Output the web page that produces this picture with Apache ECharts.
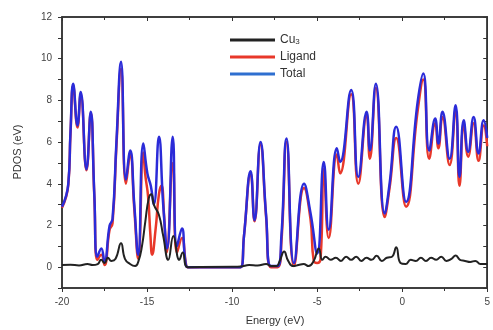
<!DOCTYPE html>
<html>
<head>
<meta charset="utf-8">
<script src="https://cdn.jsdelivr.net/npm/echarts@6/dist/echarts.min.js"></script>
<style>
html, body { margin: 0; padding: 0; background: #fff; }
#chart { width: 493px; height: 330px; }
</style>
</head>
<body>
<div id="chart"></div>
<script>
// Energy ticks (eV)
var xTicks = [-20, -15, -10, -5, 0, 5];
var yTicks = [0, 2, 4, 6, 8, 10, 12];

// Total DOS
var totalE = [-20, -19.63, -19.5, -19.34, -19.09, -18.9, -18.56, -18.31, -18.1, -17.92, -17.69, -17.5, -17.2, -17.03, -16.8, -16.53, -16.24, -15.99, -15.75, -15.52, -15.22, -14.98, -14.78, -14.6, -14.3, -14.05, -13.82, -13.49, -13.24, -12.95, -12.75, -12.6, -9.5, -9.3, -8.91, -8.68, -8.33, -8.0, -7.72, -7.33, -7.1, -6.8, -6.36, -5.77, -5.39, -5.0, -4.61, -4.32, -3.84, -3.65, -3.0, -2.58, -2.09, -1.9, -1.55, -1.03, -0.74, -0.35, 0.23, 0.91, 1.24, 1.59, 1.94, 2.13, 2.37, 2.79, 3.14, 3.37, 3.62, 3.88, 4.2, 4.49, 4.79, 5.0];
var totalV = [2.9, 4.0, 6.5, 8.8, 6.8, 8.4, 4.7, 7.45, 3.5, 0.5, 0.9, 0.25, 2.0, 2.3, 6.0, 9.85, 4.2, 5.6, 3.0, 0.6, 5.93, 4.5, 3.9, 3.0, 6.25, 3.0, 0.9, 6.25, 1.0, 1.85, 0.3, 0, 0, 1.5, 4.6, 2.25, 6.0, 2.5, 0.05, 0.05, 1.5, 6.17, 0.2, 4.0, 2.6, 0.65, 5.05, 1.8, 5.7, 5.05, 8.5, 4.33, 7.45, 5.6, 8.8, 2.57, 4.0, 6.73, 3.13, 7.93, 9.29, 5.6, 7.13, 5.93, 7.45, 5.2, 7.77, 4.33, 7.05, 5.53, 7.2, 5.45, 7.05, 6.2];

// Ligand DOS
var ligandE = [-20, -19.63, -19.5, -19.34, -19.09, -18.9, -18.56, -18.31, -18.1, -17.92, -17.69, -17.5, -17.2, -17.03, -16.8, -16.53, -16.24, -15.99, -15.75, -15.52, -15.22, -15.1, -14.94, -14.8, -14.7, -14.5, -14.3, -14.15, -14.0, -13.85, -13.49, -13.24, -12.95, -12.7, -12.6, -9.5, -9.3, -8.91, -8.68, -8.33, -8.0, -7.72, -7.33, -7.1, -6.8, -6.36, -5.77, -5.39, -5.2, -5.0, -4.8, -4.61, -4.32, -3.84, -3.65, -3.0, -2.58, -2.09, -1.9, -1.55, -1.03, -0.74, -0.35, 0.23, 0.91, 1.24, 1.59, 1.94, 2.13, 2.37, 2.79, 3.14, 3.37, 3.62, 3.88, 4.2, 4.49, 4.79, 5.0];
var ligandV = [2.85, 3.95, 6.4, 8.7, 6.7, 8.3, 4.65, 7.4, 3.4, 0.35, 0.6, 0.1, 1.8, 2.1, 5.8, 9.5, 4.0, 5.4, 2.8, 0.4, 5.5, 4.4, 3.4, 1.5, 0.6, 1.8, 3.5, 3.9, 2.5, 0.7, 5.0, 0.7, 1.4, 0.1, 0, 0, 1.5, 4.5, 2.2, 5.9, 2.4, 0, 0, 1.2, 6.0, 0.05, 3.8, 2.3, 0.3, 0.2, 0.4, 4.7, 1.4, 5.4, 4.5, 8.3, 4.0, 7.3, 5.2, 8.6, 2.4, 3.8, 6.2, 2.9, 7.5, 9.0, 5.2, 6.9, 5.7, 7.2, 4.9, 7.5, 3.9, 6.8, 5.3, 6.9, 5.1, 6.8, 5.8];

// Cu3 DOS
var cuE = [-20, -19.5, -19, -18.5, -18.2, -17.9, -17.7, -17.5, -17.3, -17.1, -16.85, -16.53, -16.3, -16.0, -15.7, -15.5, -15.3, -15.1, -14.9, -14.75, -14.6, -14.3, -14.05, -13.75, -13.45, -13.1, -12.9, -12.6, -10, -9.5, -9.0, -8.5, -8.0, -7.7, -7.4, -7.2, -6.94, -6.7, -6.4, -6.1, -5.8, -5.5, -5.2, -4.9, -4.7, -4.5, -4.2, -3.9, -3.6, -3.3, -3.0, -2.7, -2.4, -2.1, -1.8, -1.5, -1.2, -0.9, -0.6, -0.35, -0.1, 0.2, 0.5, 0.8, 1.1, 1.4, 1.7, 2.0, 2.3, 2.6, 2.9, 3.14, 3.4, 3.7, 4.0, 4.3, 4.6, 5.0];
var cuV = [0.1, 0.12, 0.08, 0.15, 0.1, 0.15, 0.35, 0.2, 0.45, 0.3, 0.4, 1.15, 0.4, 0.15, 0.05, 0.3, 1.0, 2.2, 3.3, 3.5, 3.0, 2.5, 1.5, 0.35, 1.5, 0.35, 0.7, 0, 0.02, 0.03, 0.1, 0.08, 0.15, 0.05, 0.05, 0.3, 0.75, 0.3, 0.05, 0.1, 0.15, 0.05, 0.3, 0.9, 0.35, 0.5, 0.35, 0.45, 0.3, 0.5, 0.35, 0.5, 0.3, 0.45, 0.35, 0.55, 0.3, 0.45, 0.5, 0.95, 0.2, 0.15, 0.35, 0.3, 0.45, 0.3, 0.45, 0.35, 0.5, 0.3, 0.4, 0.56, 0.35, 0.3, 0.25, 0.3, 0.15, 0.15];

function pairs(xs, ys) {
	var out = [];
	for (var i = 0; i < xs.length; i++) out.push([xs[i], ys[i]]);
	return out;
}

var axisColor = '#333';

var myChart = echarts.init(document.getElementById('chart'));
var option = {
	backgroundColor: '#fff',
	animation: false,
	grid: { left: 62, right: 5, top: 17, bottom: 42, show: true, borderColor: axisColor, borderWidth: 1.5 },
	// axis titles as plain text
	graphic: [{
		type: 'text', x: 275, y: 321,
		style: { text: 'Energy (eV)', fill: '#333', font: '11px "Liberation Sans"', textAlign: 'center', textVerticalAlign: 'middle' }
	}, {
		type: 'text', x: 18, y: 152, rotation: Math.PI / 2,
		style: { text: 'PDOS (eV)', fill: '#333', font: '11px "Liberation Sans"', textAlign: 'center', textVerticalAlign: 'middle' }
	}],
	legend: {
		orient: 'vertical',
		left: 225,
		top: 29,
		itemGap: 5,
		itemWidth: 45,
		itemHeight: 3,
		icon: 'rect',
		data: ['Cu3', 'Ligand', 'Total'],
		formatter: function(name) {
			return name === 'Cu3' ? 'Cu{sub|3}' : name;
		},
		textStyle: {
			color: '#333', fontFamily: 'Liberation Sans', fontSize: 12,
			rich: { sub: { fontSize: 8, verticalAlign: 'bottom', color: '#333' } }
		}
	},
	xAxis: [{
		type: 'value', min: -20, max: 5, interval: 5,
		axisLine: { show: true, onZero: false, lineStyle: { color: axisColor, width: 1.5 } },
		axisTick: { show: true, inside: false, length: 4 },
		minorTick: { show: true, splitNumber: 2, length: 3 },
		axisLabel: { margin: 9, color: '#444', fontFamily: 'Liberation Sans', fontSize: 10 },
		splitLine: { show: false }
	}, {
		type: 'value', position: 'top', min: -20, max: 5, interval: 5,
		axisLine: { show: true, onZero: false, lineStyle: { color: axisColor, width: 1.5 } },
		axisTick: { show: true, inside: true, length: 4 },
		minorTick: { show: true, splitNumber: 2, length: 3 },
		axisLabel: { show: false },
		splitLine: { show: false }
	}],
	yAxis: [{
		type: 'value', min: -1, max: 12, interval: 1,
		axisLine: { show: true, onZero: false, lineStyle: { color: axisColor, width: 1.5 } },
		axisTick: { show: true, inside: false, length: 4 },
		axisLabel: {
			margin: 10, color: '#444', fontFamily: 'Liberation Sans', fontSize: 10,
			formatter: function(v) { return yTicks.indexOf(v) >= 0 ? String(v) : ''; }
		},
		splitLine: { show: false }
	}, {
		type: 'value', position: 'right', min: -1, max: 12, interval: 1,
		axisLine: { show: true, onZero: false, lineStyle: { color: axisColor, width: 1.5 } },
		axisTick: { show: true, inside: true, length: 4 },
		axisLabel: { show: false },
		splitLine: { show: false }
	}],
	series: [{
		name: 'Ligand', type: 'line', smooth: 0.5, symbol: 'none',
		lineStyle: { color: '#e8382a', width: 2.5 }, itemStyle: { color: '#e8382a' },
		data: pairs(ligandE, ligandV)
	}, {
		name: 'Total', type: 'line', smooth: 0.5, symbol: 'none',
		lineStyle: { color: '#2b2bd8', width: 2.5 }, itemStyle: { color: '#2e6fd0' },
		data: pairs(totalE, totalV)
	}, {
		name: 'Cu3', type: 'line', smooth: 0.5, symbol: 'none',
		lineStyle: { color: '#222', width: 2 }, itemStyle: { color: '#222' },
		data: pairs(cuE, cuV)
	}, {
		// empty series bound to the top and right frame axes
		type: 'line', xAxisIndex: 1, yAxisIndex: 1, data: []
	}]
};
myChart.setOption(option);
</script>
</body>
</html>
